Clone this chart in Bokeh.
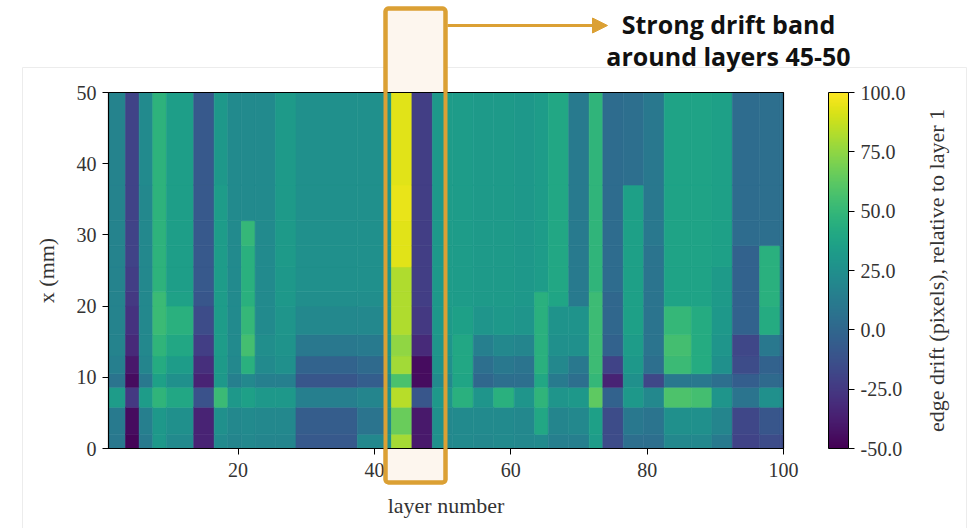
import math
from bokeh.plotting import figure
from bokeh.models import (LinearColorMapper, ColorBar, BoxAnnotation, Arrow, NormalHead,
                          Label, FixedTicker, ColumnDataSource, Range1d, PrintfTickFormatter)
from bokeh.palettes import Viridis256
from bokeh.embed import file_html
from bokeh.resources import INLINE

# ---------------- data ----------------
layer_first = [1, 4, 6, 8, 10, 14, 17, 19, 21, 23, 26, 29, 38, 42, 43, 46, 49, 51, 52, 55,
               58, 61, 64, 66, 69, 72, 74, 77, 80, 83, 87, 90, 93, 97, 100]
layer_last = [3, 5, 7, 9, 13, 16, 18, 20, 22, 25, 28, 37, 41, 42, 45, 48, 50, 51, 54, 57,
              60, 63, 65, 68, 71, 73, 76, 79, 82, 86, 89, 92, 96, 99, 100]
x_edges = [0, 2, 5.8, 8.6, 10.5, 13, 16, 20, 22, 25.5, 28.5, 32, 37, 50]
drift = [
    [10, 12, 33, 8, 15, 17, 17, 17, 17, 17, 17, 17, 17],
    [-48, -45, -25, -45, -40, -32, -28, -25, -22, -20, -20, -20, -20],
    [12, 15, 33, 10, 18, 20, 20, 20, 20, 20, 20, 20, 22],
    [30, 30, 48, 35, 42, 48, 52, 52, 47, 47, 47, 47, 47],
    [22, 25, 40, 25, 33, 40, 45, 36, 34, 34, 34, 34, 34],
    [-35, -35, -12, -35, -30, -22, -15, -10, -8, -8, -8, -8, -8],
    [22, 25, 52, 30, 32, 33, 33, 33, 33, 33, 33, 33, 30],
    [18, 20, 30, 15, 20, 22, 22, 22, 22, 22, 22, 22, 22],
    [20, 22, 35, 20, 45, 55, 50, 45, 45, 45, 50, 22, 22],
    [18, 20, 30, 15, 22, 24, 22, 22, 22, 22, 22, 22, 22],
    [18, 20, 30, 15, 25, 27, 28, 30, 30, 32, 32, 32, 32],
    [-8, -6, 15, -10, -2, 10, 20, 24, 25, 25, 25, 25, 25],
    [20, 8, 18, -5, 2, 12, 20, 24, 25, 25, 25, 25, 25],
    [25, 22, 25, 20, 25, 27, 27, 27, 27, 27, 27, 27, 27],
    [80, 66, 84, 57, 79, 75, 82, 82, 82, 93, 93, 95, 93],
    [-40, -40, -10, -45, -45, -32, -25, -22, -22, -22, -22, -22, -22],
    [25, 25, 30, 22, 27, 28, 30, 30, 30, 30, 30, 30, 30],
    [20, 20, 28, 20, 25, 28, 32, 33, 33, 33, 33, 33, 33],
    [22, 22, 45, 38, 40, 40, 35, 33, 33, 33, 33, 33, 33],
    [20, 22, 28, 0, 5, 15, 28, 32, 32, 32, 32, 32, 32],
    [22, 22, 45, 5, 10, 20, 30, 32, 32, 32, 32, 32, 32],
    [20, 20, 28, 5, 8, 18, 28, 30, 30, 30, 30, 30, 30],
    [22, 40, 48, 40, 45, 45, 45, 45, 33, 33, 33, 33, 33],
    [15, 18, 28, 12, 20, 25, 27, 38, 40, 40, 40, 40, 40],
    [15, 20, 30, 5, 10, 25, 27, 12, 12, 12, 12, 12, 12],
    [33, 35, 63, 50, 53, 53, 53, 53, 48, 48, 48, 48, 48],
    [-15, -15, -3, -35, -20, -3, 0, 0, 3, 3, 3, 3, 3],
    [5, 10, 30, 25, 30, 33, 35, 35, 35, 35, 35, 35, 5],
    [5, 8, 20, -18, 5, 8, 8, 8, 8, 8, 10, 10, 10],
    [20, 25, 58, 10, 52, 55, 50, 37, 37, 37, 37, 37, 37],
    [20, 25, 55, 10, 42, 42, 42, 37, 37, 37, 37, 37, 37],
    [12, 18, 28, 5, 25, 28, 30, 32, 32, 35, 35, 35, 35],
    [-20, -18, 8, -5, -15, -18, -3, -3, -3, -3, 3, 3, 3],
    [-15, -10, 25, 2, -3, 10, 42, 45, 45, 45, 5, 5, 5],
    [-15, -10, 20, 0, -5, 0, 5, 5, 5, 5, 5, 5, 5],
]
layer_min, layer_max = 1, 100
xmm_min, xmm_max = 0, 50
x_ticks = [20, 40, 60, 80, 100]
y_ticks = [0, 10, 20, 30, 40, 50]
cbar_ticks = [-50, -25, 0, 25, 50, 75, 100]
drift_low, drift_high = -50, 100
x_title = "layer number"
y_title = "x (mm)"
cbar_label = "edge drift (pixels), relative to layer 1"
note_lines = ["Strong drift band", "around layers 45-50"]

# ---------------- build cells ----------------
left, right, bottom, top, val = [], [], [], [], []
for g in range(len(layer_first)):
    for b in range(len(x_edges) - 1):
        left.append(max(layer_first[g] - 0.5, layer_min))
        right.append(min(layer_last[g] + 0.5, layer_max))
        bottom.append(x_edges[b])
        top.append(x_edges[b + 1])
        val.append(drift[g][b])
src = ColumnDataSource(dict(left=left, right=right, bottom=bottom, top=top, val=val))

mapper = LinearColorMapper(palette=Viridis256, low=drift_low, high=drift_high)

# ---------------- layout (pixels) ----------------
W, H = 968, 528
HL, HR, HT, HB = 108, 783, 92, 448          # heatmap area on the canvas
sx = (HR - HL) / (layer_max - layer_min)    # px per layer
sy = (HB - HT) / (xmm_max - xmm_min)        # px per mm
# the frame fills the whole canvas; axes are pinned to the heatmap edges
x_rng = Range1d(layer_min - HL / sx, layer_min + (W - HL) / sx)
y_rng = Range1d(xmm_min - (H - HB) / sy, xmm_min + HB / sy)

p = figure(width=W, height=H, output_backend="svg", toolbar_location=None,
           x_range=x_rng, y_range=y_rng, min_border=0,
           min_border_left=0, min_border_right=0, min_border_top=0, min_border_bottom=0)
p.background_fill_color = "white"
p.border_fill_color = "white"
p.grid.visible = False
p.outline_line_color = None

C = dict(x_units="canvas", y_units="canvas")
CB = dict(left_units="canvas", right_units="canvas", top_units="canvas", bottom_units="canvas")

# faint frame of the pasted figure
p.add_layout(BoxAnnotation(left=22, right=966, top=67, bottom=560, level="underlay",
                           fill_alpha=0, line_color="#ececec", line_alpha=1, line_width=1, **CB))

# highlight box fill (under the heatmap)
box_kw = dict(left=385, right=445, top=8, bottom=482, line_color="#DBA034", line_alpha=1,
              line_width=4, border_radius=3, **CB)
p.add_layout(BoxAnnotation(level="underlay", fill_color="#fdf6ee", fill_alpha=1.0, **box_kw))

p.quad(left="left", right="right", bottom="bottom", top="top", source=src,
       fill_color={"field": "val", "transform": mapper},
       line_color={"field": "val", "transform": mapper}, line_width=0.6)

# spines around the heatmap
p.add_layout(BoxAnnotation(left=layer_min, right=layer_max, bottom=xmm_min, top=xmm_max,
                           fill_alpha=0, line_color="black", line_alpha=1, line_width=1.2))

serif = "Liberation Serif"
for ax in (p.xaxis[0], p.yaxis[0]):
    ax.major_label_text_font = serif
    ax.major_label_text_font_size = "20px"
    ax.major_label_text_color = "#333333"
    ax.major_tick_out = 6
    ax.major_tick_in = 0
    ax.minor_tick_out = 0
    ax.minor_tick_in = 0
    ax.axis_line_color = "black"
    ax.major_tick_line_color = "black"
p.xaxis.ticker = FixedTicker(ticks=x_ticks)
p.yaxis.ticker = FixedTicker(ticks=y_ticks)
p.xaxis.bounds = (layer_min, layer_max)
p.yaxis.bounds = (xmm_min, xmm_max)
p.xaxis.fixed_location = xmm_min
p.yaxis.fixed_location = layer_min
p.xaxis.major_label_standoff = 8
p.yaxis.major_label_standoff = 6

# axis titles
p.add_layout(Label(x=(HL + HR) / 2, y=505, text=x_title, text_align="center",
                   text_baseline="middle", text_font=serif, text_font_size="22px",
                   text_color="#333333", **C))
p.add_layout(Label(x=46, y=(HT + HB) / 2, text=y_title, angle=math.pi / 2,
                   text_align="center", text_baseline="middle", text_font=serif,
                   text_font_size="22px", text_color="#333333", **C))

cb = ColorBar(color_mapper=mapper, ticker=FixedTicker(ticks=cbar_ticks),
              formatter=PrintfTickFormatter(format="%.1f"),
              width=20, height=HB - HT, padding=0, margin=0, location=(828, H - HB),
              major_label_text_font=serif, major_label_text_font_size="20px",
              major_label_text_color="#333333",
              major_tick_out=6, major_tick_in=0, major_tick_line_color="black",
              minor_tick_line_color=None,
              bar_line_color="black", label_standoff=6,
              background_fill_alpha=0, border_line_color=None)
p.add_layout(cb)

p.add_layout(Label(x=936, y=(HT + HB) / 2, text=cbar_label, angle=math.pi / 2,
                   text_align="center", text_baseline="middle",
                   text_font=serif, text_font_size="22px", text_color="#333333", **C))

# highlight box outline, arrow and note
p.add_layout(BoxAnnotation(level="overlay", fill_alpha=0.0, **box_kw))
p.add_layout(Arrow(x_start=447, y_start=25, x_end=607, y_end=25,
                   start_units="canvas", end_units="canvas",
                   line_color="#DBA034", line_width=3,
                   end=NormalHead(size=15, fill_color="#DBA034", line_color="#DBA034")))
for i, t in enumerate(note_lines):
    p.add_layout(Label(x=728, y=23 + 32 * i, text=t, text_align="center",
                       text_baseline="middle", text_font="Open Sans",
                       text_font_style="bold", text_font_size="25px",
                       text_color="#111111", **C))

open("out.html", "w").write(file_html(p, INLINE))
